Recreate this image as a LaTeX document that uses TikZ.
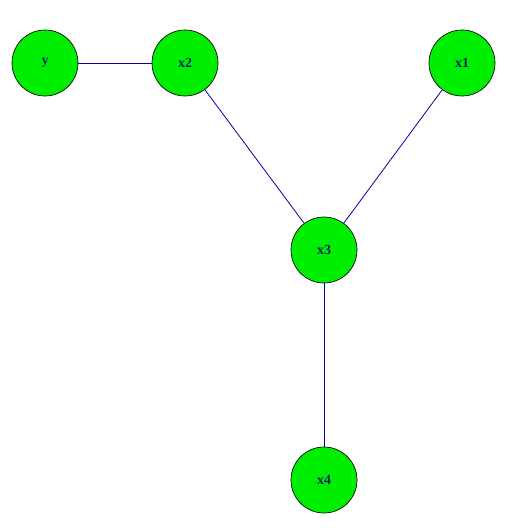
\documentclass[tikz,border=0pt]{standalone}
\usepackage{fontspec}
\setmainfont{Liberation Serif}
\begin{document}
\begin{tikzpicture}[x=0.75pt,y=-0.75pt,
  vnode/.style={circle,draw=black,line width=0.5pt,fill={rgb,255:red,0;green,238;blue,0},minimum size=49.5pt,inner sep=0pt,font=\bfseries\fontsize{10.5}{12}\selectfont,text={rgb,255:red,0;green,40;blue,100}},
  edge/.style={draw={rgb,255:red,0;green,0;blue,170},line width=0.6pt}]
\useasboundingbox (0,0) rectangle (519,531);
\node[vnode] (y) at (45,63) {y};
\node[vnode] (x2) at (185,63) {x2};
\node[vnode] (x1) at (462,63) {x1};
\node[vnode] (x3) at (324,250) {x3};
\node[vnode] (x4) at (324,480) {x4};
\draw[edge] (y) -- (x2);
\draw[edge] (x2) -- (x3);
\draw[edge] (x1) -- (x3);
\draw[edge] (x3) -- (x4);
\end{tikzpicture}
\end{document}
